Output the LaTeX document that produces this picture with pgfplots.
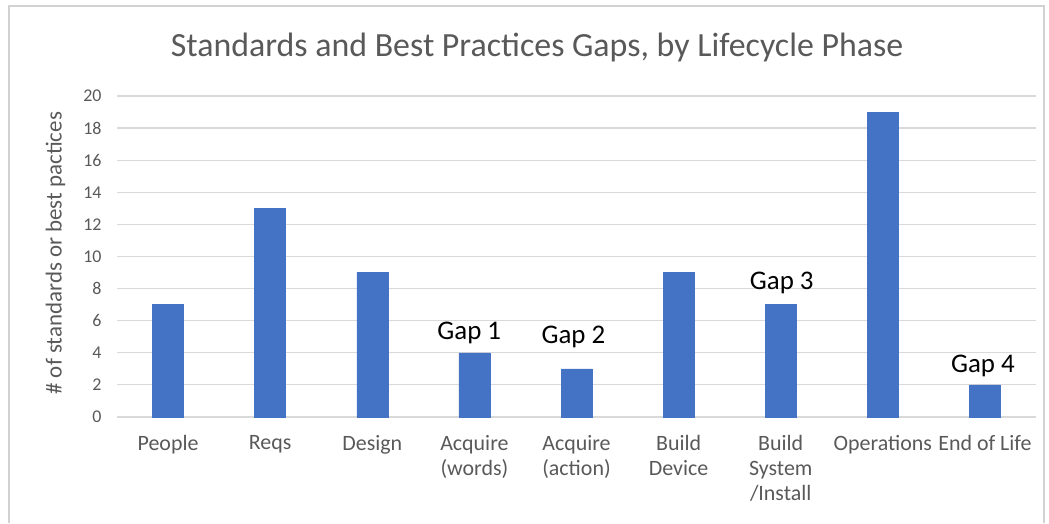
\documentclass[border=0pt]{standalone}
\usepackage{pgfplots}
\pgfplotsset{compat=1.18}
\usepackage{fontspec}
\setmainfont{Carlito}
\definecolor{barblue}{HTML}{4472C4}
\definecolor{txtgray}{HTML}{595959}
\definecolor{gridgray}{HTML}{D9D9D9}
\begin{document}
\begin{tikzpicture}[x=1bp,y=1bp]
\path (0,0) rectangle (1049,521);
\draw[color=gray!35, line width=1.2bp] (9,-2) -- (9,515) -- (1044,515) -- (1044,-2);
\node[text=txtgray, font=\fontsize{34}{40}\selectfont] at (537,474) {Standards and Best Practices Gaps, by Lifecycle Phase};
\begin{axis}[
  at={(117bp,104bp)}, anchor=south west,
  scale only axis, width=919bp, height=321bp,
  ymin=0, ymax=20, ytick={0,2,...,20},
  xmin=-0.5, xmax=8.5, xtick={0,...,8},
  xticklabels={People,Reqs,Design,{Acquire\\(words)},{Acquire\\(action)},{Build\\Device},{Build\\System\\/Install},Operations,End of Life},
  xticklabel style={align=center, text=txtgray, font=\fontsize{22}{25}\selectfont, anchor=north, yshift=-15bp},
  yticklabel style={text=txtgray, font=\fontsize{18}{20}\selectfont, xshift=-12bp},
  /pgf/number format/assume math mode=true,
  ylabel={\# of standards or best pactices},
  ylabel style={at={(axis description cs:-0.067,0.51)}, anchor=center, text=txtgray, font=\fontsize{23}{26}\selectfont},
  axis line style={draw=none},
  major tick length=0pt,
  ymajorgrids, grid style={gridgray, line width=1.2bp},
  clip=false,
]
\addplot[ybar, bar width=31bp, fill=barblue, draw=barblue] coordinates {
(0,7) (1,13) (2,9) (3,4) (4,3) (5,9) (6,7) (7,19) (8,2)
};
\node[font=\fontsize{27}{30}\selectfont, anchor=base] at (axis cs:2.95,4.8) {Gap 1};
\node[font=\fontsize{27}{30}\selectfont, anchor=base] at (axis cs:3.97,4.61) {Gap 2};
\node[font=\fontsize{27}{30}\selectfont, anchor=base] at (axis cs:6.01,7.97) {Gap 3};
\node[font=\fontsize{27}{30}\selectfont, anchor=base] at (axis cs:7.98,2.8) {Gap 4};
\end{axis}
\end{tikzpicture}
\end{document}
